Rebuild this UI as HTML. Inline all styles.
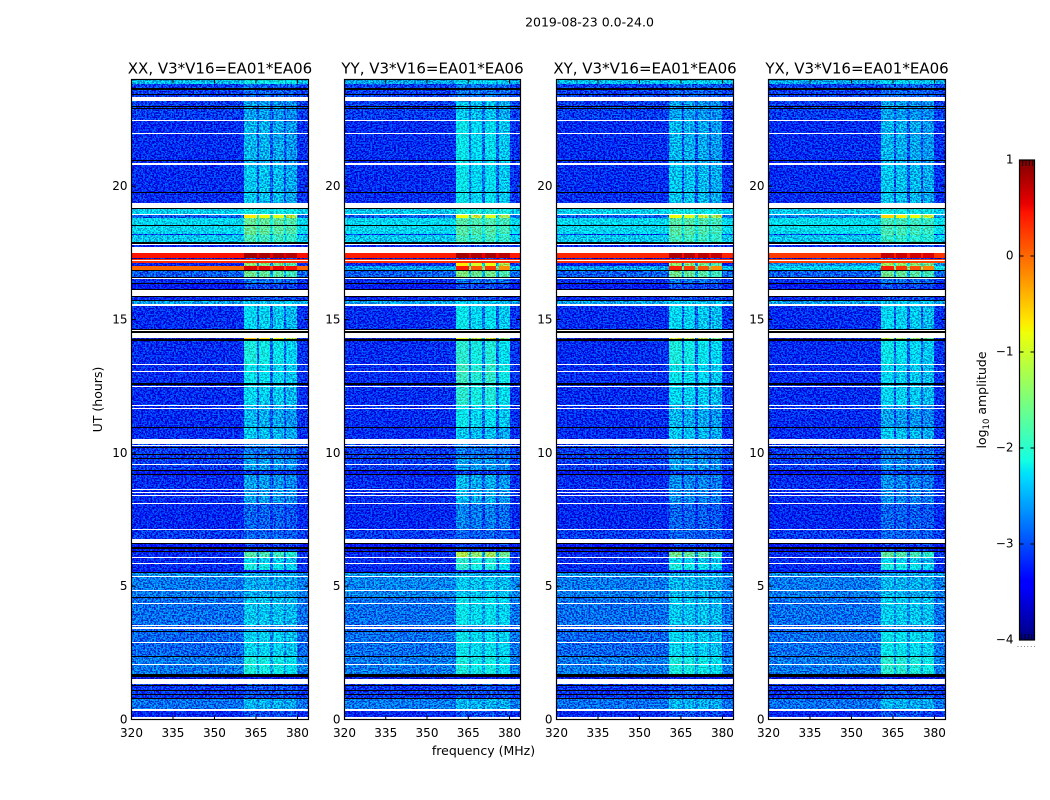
<!DOCTYPE html>
<html>
<head>
<meta charset="utf-8">
<title>2019-08-23 0.0-24.0</title>
<style>
html,body{margin:0;padding:0;background:#fff;width:1050px;height:800px;overflow:hidden}
svg{display:block}
text{font-family:"DejaVu Sans","Liberation Sans",sans-serif;fill:#000}
</style>
</head>
<body>
<svg id="figure" xmlns="http://www.w3.org/2000/svg" width="1050" height="800" viewBox="0 0 1050 800">
<defs>
<linearGradient id="jet-gradient" x1="0" y1="1" x2="0" y2="0"></linearGradient>
<filter id="speckle-0" x="0" y="0" width="1" height="1" color-interpolation-filters="sRGB"><feTurbulence type="fractalNoise" baseFrequency="0.55 0.7" numOctaves="2" seed="3" result="n"/><feColorMatrix in="n" type="matrix" values="0 0 0 0 .5 6 0 0 0 -2.5 3 0 0 0 -1 0 0 0 0 1" result="m"/><feComposite in="SourceGraphic" in2="m" operator="arithmetic" k1="0" k2="1" k3="0.55" k4="-0.275"/></filter>
<filter id="speckle-1" x="0" y="0" width="1" height="1" color-interpolation-filters="sRGB"><feTurbulence type="fractalNoise" baseFrequency="0.55 0.7" numOctaves="2" seed="11" result="n"/><feColorMatrix in="n" type="matrix" values="0 0 0 0 .5 6 0 0 0 -2.5 3 0 0 0 -1 0 0 0 0 1" result="m"/><feComposite in="SourceGraphic" in2="m" operator="arithmetic" k1="0" k2="1" k3="0.55" k4="-0.275"/></filter>
<filter id="speckle-2" x="0" y="0" width="1" height="1" color-interpolation-filters="sRGB"><feTurbulence type="fractalNoise" baseFrequency="0.55 0.7" numOctaves="2" seed="23" result="n"/><feColorMatrix in="n" type="matrix" values="0 0 0 0 .5 6 0 0 0 -2.5 3 0 0 0 -1 0 0 0 0 1" result="m"/><feComposite in="SourceGraphic" in2="m" operator="arithmetic" k1="0" k2="1" k3="0.55" k4="-0.275"/></filter>
<filter id="speckle-3" x="0" y="0" width="1" height="1" color-interpolation-filters="sRGB"><feTurbulence type="fractalNoise" baseFrequency="0.55 0.7" numOctaves="2" seed="37" result="n"/><feColorMatrix in="n" type="matrix" values="0 0 0 0 .5 6 0 0 0 -2.5 3 0 0 0 -1 0 0 0 0 1" result="m"/><feComposite in="SourceGraphic" in2="m" operator="arithmetic" k1="0" k2="1" k3="0.55" k4="-0.275"/></filter>
</defs>
<text x="589.5" y="26.5" font-size="12.5" text-anchor="middle">2019-08-23 0.0-24.0</text>
<text x="483.5" y="755" font-size="12.5" text-anchor="middle">frequency (MHz)</text>
<text transform="translate(102,399.5) rotate(-90)" font-size="12.5" text-anchor="middle">UT (hours)</text>
<text transform="translate(986,400) rotate(-90)" font-size="12.5" text-anchor="middle">log<tspan font-size="8.5" dy="3">10</tspan><tspan dy="-3"> amplitude</tspan></text>
<g id="panels"></g>
<g id="colorbar"></g>
</svg>
<script>
// Time bands (top hour of each band) and frequency channels (MHz edges)
const bandTopHours = [24.0,23.85,23.21,22.5,20.81,19.39,18.96,18.81,18.21,18.19,
  17.81,17.51,17.33,17.27,17.12,17.01,16.88,16.6,16.35,15.9,
  15.71,15.6,14.66,14.31,14.27,13.35,12.56,11.81,10.95,10.54,
  10.24,9.79,9.38,9.19,8.1,7.13,6.6,6.3,6.11,5.85,
  5.64,5.53,5.36,4.61,3.56,3.3,2.4,1.73,1.35,0.79,0.41];
const bandEndHour = 0.11;
const channelEdgesMHz = [320,335,350,360.6,365.2,366,370,371,375.2,376,380,384];

// log10 amplitude of the quiet background per band
const xxBackground = [-2.45,-3.1,-3.12,-3.22,-3.22,-2.35,-2.95,-2.3,-3.2,-2.4,
  -3.25,0.45,-3.7,0.3,-3.3,0.0,-2.95,-3.22,-3.35,-3.25,
  -2.6,-3.22,-3.22,-3.7,-3.22,-3.22,-3.22,-3.22,-3.22,-3.12,
  -3.12,-3.12,-3.35,-3.22,-3.25,-3.12,-3.35,-3.22,-3.22,-3.22,
  -3.45,-2.7,-2.8,-2.85,-2.95,-2.9,-2.8,-3.6,-3.15,-2.85,-3.25];
const yyBackground = [-2.55,-3.1,-3.12,-3.22,-3.22,-2.4,-2.95,-2.3,-3.2,-2.4,
  -3.25,0.4,-3.7,0.3,-3.25,-2.6,-2.95,-3.22,-3.35,-3.25,
  -2.6,-3.22,-3.22,-3.7,-3.22,-3.22,-3.22,-3.22,-3.22,-3.12,
  -3.12,-3.12,-3.35,-3.22,-3.25,-3.12,-3.35,-3.22,-3.22,-3.22,
  -3.45,-2.65,-2.75,-2.85,-2.95,-2.85,-2.8,-3.6,-3.15,-2.8,-3.25];
const xyBackground = [-2.45,-3.1,-3.12,-3.22,-3.22,-2.35,-2.95,-2.3,-3.2,-2.4,
  -3.25,0.35,-3.7,0.3,-3.35,-2.6,-2.95,-3.22,-3.35,-3.25,
  -2.6,-3.22,-3.22,-3.7,-3.22,-3.22,-3.22,-3.22,-3.22,-3.12,
  -3.12,-3.12,-3.35,-3.22,-3.25,-3.12,-3.35,-3.22,-3.22,-3.22,
  -3.45,-2.7,-2.8,-2.85,-2.95,-2.9,-2.8,-3.6,-3.15,-2.85,-3.25];
const yxBackground = [-2.55,-3.1,-3.12,-3.22,-3.22,-2.4,-2.75,-2.25,-3.2,-2.4,
  -3.25,0.25,-3.7,0.2,-2.7,-2.3,-2.95,-3.22,-3.35,-3.25,
  -2.6,-3.22,-3.22,-3.7,-3.22,-3.22,-3.22,-3.22,-3.22,-3.12,
  -3.12,-3.12,-3.35,-3.22,-3.25,-3.12,-3.35,-3.22,-3.22,-3.22,
  -3.45,-2.7,-2.8,-2.85,-2.95,-2.85,-2.8,-3.6,-3.15,-2.85,-3.25];

// log10 amplitude of the bright 360-380 MHz channels per band
const xxBright = [-2.15,-2.9,-2.6,-2.5,-2.4,-2.15,-0.7,-1.65,-1.7,-1.85,
  -3.0,0.85,-3.0,0.3,-1.4,0.6,-1.6,-2.8,-3.0,-3.0,
  -2.4,-2.3,-2.1,-0.5,-2.1,-2.2,-2.3,-2.5,-2.4,-2.8,
  -2.8,-2.6,-3.1,-2.6,-2.9,-2.9,-3.1,-1.75,-2.3,-2.1,
  -3.25,-2.55,-2.55,-2.4,-2.7,-2.3,-2.1,-3.4,-3.0,-2.5,-3.0];
const yyBright = [-2.3,-2.8,-2.4,-2.2,-2.2,-2.05,-0.8,-1.75,-1.7,-1.85,
  -3.0,0.85,-3.0,0.3,-0.7,0.4,-1.5,-2.8,-3.0,-3.0,
  -2.4,-2.2,-2.0,-0.9,-2.0,-1.9,-2.0,-2.2,-2.4,-2.8,
  -2.8,-2.6,-3.1,-2.5,-2.75,-2.9,-3.1,-1.2,-2.0,-2.0,
  -3.25,-2.55,-2.4,-2.2,-2.7,-2.2,-2.1,-3.4,-3.0,-2.5,-3.0];
const xyBright = [-2.3,-2.9,-2.6,-2.5,-2.4,-2.15,-0.8,-1.75,-1.7,-1.85,
  -3.0,0.8,-3.0,0.3,-1.4,0.4,-1.6,-2.8,-3.0,-3.0,
  -2.4,-2.3,-2.1,-1.0,-2.1,-2.2,-2.3,-2.5,-2.4,-2.8,
  -2.8,-2.6,-3.1,-2.7,-2.9,-2.9,-3.1,-1.6,-2.3,-2.1,
  -3.25,-2.55,-2.5,-2.4,-2.7,-2.3,-2.1,-3.4,-3.0,-2.5,-3.0];
const yxBright = [-2.3,-2.9,-2.6,-2.5,-2.4,-2.15,-0.6,-1.85,-1.7,-1.95,
  -3.0,0.7,-3.0,0.2,-1.3,0.4,-1.6,-2.8,-3.0,-3.0,
  -2.4,-2.3,-2.2,-1.2,-2.2,-2.3,-2.3,-2.6,-2.4,-2.8,
  -2.8,-2.7,-3.1,-2.7,-2.9,-2.9,-3.1,-1.7,-2.3,-2.1,
  -3.25,-2.55,-2.5,-2.35,-2.7,-2.2,-2.0,-3.4,-3.0,-2.5,-3.0];

// Share of the bright level reached by each frequency channel
const xxChannelWeights = [0,0,0.02,1,0.3,0.95,0.3,0.9,0.3,0.8,0.04];
const yyChannelWeights = [0,0,0.02,1,0.35,0.9,0.35,0.95,0.3,0.8,0.04];
const xyChannelWeights = [0,0,0.02,1,0.3,0.95,0.3,0.9,0.3,0.8,0.04];
const yxChannelWeights = [0,0,0.02,1,0.3,0.95,0.3,0.9,0.3,0.8,0.04];

// Flagged time ranges: [start hour, end hour]
const whiteFlagHours = [[23.37,23.21],[22.5,22.46],[22.02,21.99],[20.9,20.81],[19.39,19.21],[18.96,18.93],
  [17.86,17.81],[17.73,17.51],[17.25,17.21],[16.89,16.86],[16.58,16.55],[16.11,15.9],[15.61,15.54],
  [14.63,14.59],[14.51,14.33],[13.35,13.31],[13.09,13.05],[12.54,12.5],[11.81,11.76],[11.71,11.67],
  [10.54,10.35],[10.32,10.29],[9.6,9.56],[8.66,8.61],[8.56,8.52],[8.45,8.41],[8.14,8.1],[7.16,7.13],
  [6.8,6.63],[6.12,6.09],[5.88,5.85],[5.4,5.36],[4.88,4.84],[4.4,4.36],[3.56,3.53],[3.48,3.4],
  [3.35,3.32],[2.93,2.89],[2.1,2.06],[1.55,1.35],[0.41,0.34],[0.11,0]];
const blackFlagHours = [[23.7,23.63],[23.49,23.44],[23.03,22.99],[22.95,22.91],[21,20.95],[19.8,19.75],
  [19.21,19.16],[18.56,18.53],[17.91,17.86],[16.86,16.82],[16.6,16.58],[16.39,16.35],[16.16,16.11],
  [15.9,15.86],[15.75,15.71],[14.66,14.63],[14.59,14.51],[14.27,14.22],[12.63,12.56],[10.99,10.95],
  [10.23,10.19],[9.98,9.94],[9.83,9.79],[9.39,9.36],[9.23,9.19],[6.63,6.59],[6.48,6.41],[6.34,6.3],
  [5.56,5.51],[4.61,4.58],[3.32,3.29],[2.4,2.36],[1.73,1.6],[1.31,1.28],[1.11,1.09],[0.98,0.94],[0.83,0.79]];

// Axis labels
const panelTitles = ["XX, V3*V16=EA01*EA06","YY, V3*V16=EA01*EA06","XY, V3*V16=EA01*EA06","YX, V3*V16=EA01*EA06"];
const panelKeys = ["xx","yy","xy","yx"];
const freqTicks = [320,335,350,365,380];
const hourTicks = [0,5,10,15,20];
const colorbarTicks = [-4,-3,-2,-1,0,1];

const panelBackgrounds = [xxBackground,yyBackground,xyBackground,yxBackground];
const panelBrights = [xxBright,yyBright,xyBright,yxBright];
const panelWeights = [xxChannelWeights,yyChannelWeights,xyChannelWeights,yxChannelWeights];
const panelLefts = [131.5,344.5,556.5,768.5];
const panelWidths = [177,176,177,177];

const SVGNS = "http://www.w3.org/2000/svg";
const plotTop = 80, plotBottom = 720;
const freqMin = 320, freqMax = 384, hourMax = 24;
const levelMin = -4, levelMax = 1;
const smoothAbove = -1;

function make(tag, attrs, parent){
  const e = document.createElementNS(SVGNS, tag);
  for (const k in attrs) e.setAttribute(k, attrs[k]);
  parent.appendChild(e);
  return e;
}
function yScale(h){ return plotBottom - (h / hourMax) * (plotBottom - plotTop); }
function xScale(i, f){ return panelLefts[i] + (f - freqMin) / (freqMax - freqMin) * panelWidths[i]; }
function interp(pts, t){
  for (let j = 1; j < pts.length; j++) {
    if (t <= pts[j][0]) {
      const a = pts[j-1], b = pts[j];
      return a[1] + (b[1]-a[1]) * (t-a[0]) / (b[0]-a[0]);
    }
  }
  return pts[pts.length-1][1];
}
const jetR = [[0,0],[.35,0],[.66,1],[.89,1],[1,.5]];
const jetG = [[0,0],[.125,0],[.375,1],[.64,1],[.91,0],[1,0]];
const jetB = [[0,.5],[.11,1],[.34,1],[.65,0],[1,0]];
function jet(t){
  t = Math.max(0, Math.min(1, t));
  return "rgb(" + Math.round(interp(jetR,t)*255) + "," + Math.round(interp(jetG,t)*255) + "," + Math.round(interp(jetB,t)*255) + ")";
}
function levelColor(v){ return jet((v - levelMin) / (levelMax - levelMin)); }

const panelsRoot = document.getElementById("panels");

panelTitles.forEach(function(title, p){
  const left = panelLefts[p], right = left + panelWidths[p];
  const g = make("g", {}, panelsRoot);
  
  

  const heat = make("g", {filter: "url(#speckle-" + p + ")", "shape-rendering": "crispEdges"}, g);
  
  

  const hot = make("g", {"shape-rendering": "crispEdges"}, g);
  
  

  bandTopHours.forEach(function(top, b){
    const bottom = b + 1 < bandTopHours.length ? bandTopHours[b+1] : bandEndHour;
    const y0 = Math.round(yScale(top)), y1 = Math.round(yScale(bottom));
    for (let c = 0; c + 1 < channelEdgesMHz.length; c++) {
      const x0 = Math.round(xScale(p, channelEdgesMHz[c])), x1 = Math.round(xScale(p, channelEdgesMHz[c+1]));
      const value = panelBackgrounds[p][b] + (panelBrights[p][b] - panelBackgrounds[p][b]) * panelWeights[p][c];
      const cell = make("rect", {x: x0, y: y0, width: x1 - x0, height: Math.max(1, y1 - y0), fill: levelColor(value)}, value > smoothAbove ? hot : heat);
      
      
    }
  });

  const flags = make("g", {"shape-rendering": "crispEdges"}, g);
  
  
  whiteFlagHours.forEach(function(r){
    const y0 = Math.round(yScale(r[0])), y1 = Math.round(yScale(r[1]));
    const f = make("rect", {x: Math.round(left), y: y0, width: Math.round(right) - Math.round(left), height: Math.max(1, y1 - y0), fill: "#fff"}, flags);
    
    
  });
  blackFlagHours.forEach(function(r){
    const y0 = Math.round(yScale(r[0])), y1 = Math.round(yScale(r[1]));
    const f = make("rect", {x: Math.round(left), y: y0, width: Math.round(right) - Math.round(left), height: Math.max(1, y1 - y0), fill: "#000"}, flags);
    
    
  });

  const frame = make("rect", {x: left, y: plotTop - 0.5, width: panelWidths[p], height: plotBottom - plotTop, fill: "none", stroke: "#000", "stroke-width": 1.2}, g);
  
  

  const titleEl = make("text", {x: (left + right) / 2, y: 73.5, "font-size": 15, "text-anchor": "middle"}, g);
  titleEl.textContent = title;
  
  

  freqTicks.forEach(function(f){
    const x = xScale(p, f);
    const t1 = make("line", {x1: x, x2: x, y1: plotBottom - 0.5, y2: plotBottom - 4.5, stroke: "#000"}, g);
    
    
    const t2 = make("line", {x1: x, x2: x, y1: plotTop - 0.5, y2: plotTop + 3.5, stroke: "#000"}, g);
    
    
    const lab = make("text", {x: x, y: 737, "font-size": 12, "text-anchor": "middle"}, g);
    lab.textContent = f;
    
    
  });

  hourTicks.forEach(function(h){
    const y = yScale(h) - 0.5;
    const t1 = make("line", {x1: left, x2: left + 4, y1: y, y2: y, stroke: "#000"}, g);
    
    
    const t2 = make("line", {x1: right, x2: right - 4, y1: y, y2: y, stroke: "#000"}, g);
    
    
    const lab = make("text", {x: left - 4, y: y + 4, "font-size": 12, "text-anchor": "end"}, g);
    lab.textContent = h;
    
    
  });
});

// Colorbar
const cbRoot = document.getElementById("colorbar");
const cbLeft = 1019.5, cbRight = 1034.5, cbTop = 160, cbBottom = 640;
const grad = document.getElementById("jet-gradient");
[0,.11,.125,.34,.35,.375,.64,.65,.66,.89,.91,1].forEach(function(t){
  make("stop", {offset: t, "stop-color": jet(t)}, grad);
});
const cbBar = make("rect", {x: cbLeft, y: cbTop, width: cbRight - cbLeft, height: cbBottom - cbTop, fill: "url(#jet-gradient)", stroke: "#000", "stroke-width": 1.2}, cbRoot);


colorbarTicks.forEach(function(v){
  const y = cbBottom - (v - levelMin) / (levelMax - levelMin) * (cbBottom - cbTop);
  const t1 = make("line", {x1: cbLeft, x2: cbLeft + 4, y1: y, y2: y, stroke: "#000"}, cbRoot);
  
  
  const t2 = make("line", {x1: cbRight, x2: cbRight - 4, y1: y, y2: y, stroke: "#000"}, cbRoot);
  
  
  const lab = make("text", {x: 1013.5, y: y + 3.5, "font-size": 12, "text-anchor": "end"}, cbRoot);
  lab.textContent = v < 0 ? "\u2212" + Math.abs(v) : String(v);
  
  
});
[1022.7,1026,1029.3,1032.7].forEach(function(x){
  const m1 = make("line", {x1: x, x2: x, y1: cbTop, y2: cbTop + 6, stroke: "#000", "stroke-width": 0.8}, cbRoot);
  
  
  const m2 = make("line", {x1: x - 1, x2: x - 1, y1: cbBottom, y2: cbBottom - 6, stroke: "#000", "stroke-width": 0.8}, cbRoot);
  
  
});
const dots = make("text", {x: 1017, y: 647, "font-size": 6, fill: "#777", "letter-spacing": "1.4"}, cbRoot);
dots.textContent = "......";


</script>
</body>
</html>
